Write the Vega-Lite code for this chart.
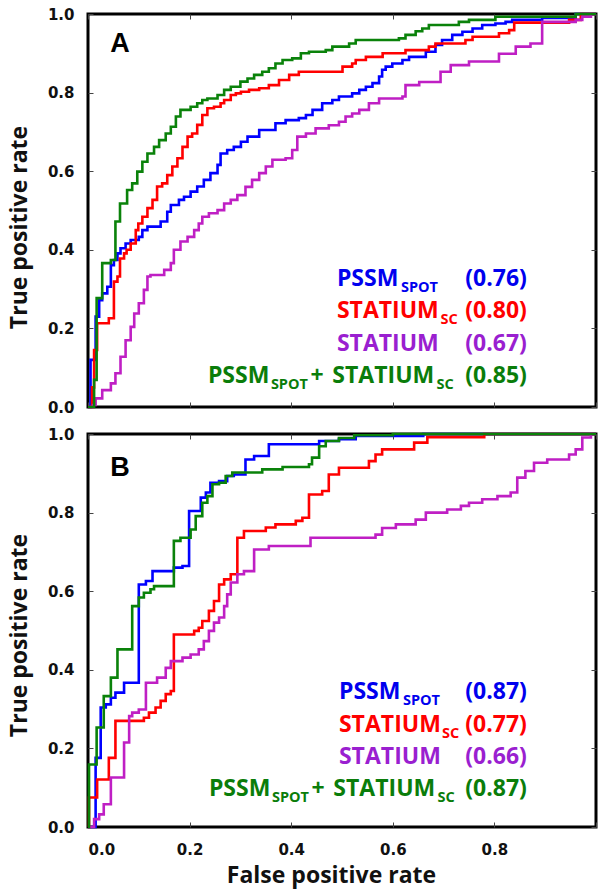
{
  "$schema": "https://vega.github.io/schema/vega-lite/v6.json",
  "padding": {"left": 6, "top": 5, "right": 0, "bottom": 0},
  "spacing": 8,
  "config": {
    "view": {"stroke": "black", "strokeWidth": 3},
    "axis": {"grid": false, "domain": false, "tickSize": -5, "tickColor": "#444", "tickWidth": 1, "labelFont": "DejaVu Sans", "labelFontWeight": "bold", "labelFontSize": 15, "labelColor": "#111", "titleFont": "Open Sans", "titleFontWeight": "bold", "titleFontSize": 23, "titleColor": "#111"}
  },
  "datasets": {
    "curves": [
      {"panel":"A","method":"PSSM_SPOT","fpr":0,"tpr":0},{"panel":"A","method":"PSSM_SPOT","fpr":0.005,"tpr":0.12},{"panel":"A","method":"PSSM_SPOT","fpr":0.015,"tpr":0.23},{"panel":"A","method":"PSSM_SPOT","fpr":0.022,"tpr":0.272},{"panel":"A","method":"PSSM_SPOT","fpr":0.028,"tpr":0.289},{"panel":"A","method":"PSSM_SPOT","fpr":0.038,"tpr":0.306},{"panel":"A","method":"PSSM_SPOT","fpr":0.045,"tpr":0.361},{"panel":"A","method":"PSSM_SPOT","fpr":0.051,"tpr":0.374},{"panel":"A","method":"PSSM_SPOT","fpr":0.058,"tpr":0.391},{"panel":"A","method":"PSSM_SPOT","fpr":0.064,"tpr":0.404},{"panel":"A","method":"PSSM_SPOT","fpr":0.074,"tpr":0.416},{"panel":"A","method":"PSSM_SPOT","fpr":0.084,"tpr":0.425},{"panel":"A","method":"PSSM_SPOT","fpr":0.1,"tpr":0.433},{"panel":"A","method":"PSSM_SPOT","fpr":0.107,"tpr":0.45},{"panel":"A","method":"PSSM_SPOT","fpr":0.117,"tpr":0.459},{"panel":"A","method":"PSSM_SPOT","fpr":0.143,"tpr":0.472},{"panel":"A","method":"PSSM_SPOT","fpr":0.156,"tpr":0.497},{"panel":"A","method":"PSSM_SPOT","fpr":0.163,"tpr":0.514},{"panel":"A","method":"PSSM_SPOT","fpr":0.179,"tpr":0.527},{"panel":"A","method":"PSSM_SPOT","fpr":0.189,"tpr":0.535},{"panel":"A","method":"PSSM_SPOT","fpr":0.202,"tpr":0.548},{"panel":"A","method":"PSSM_SPOT","fpr":0.215,"tpr":0.561},{"panel":"A","method":"PSSM_SPOT","fpr":0.228,"tpr":0.578},{"panel":"A","method":"PSSM_SPOT","fpr":0.241,"tpr":0.595},{"panel":"A","method":"PSSM_SPOT","fpr":0.255,"tpr":0.616},{"panel":"A","method":"PSSM_SPOT","fpr":0.261,"tpr":0.645},{"panel":"A","method":"PSSM_SPOT","fpr":0.274,"tpr":0.654},{"panel":"A","method":"PSSM_SPOT","fpr":0.287,"tpr":0.662},{"panel":"A","method":"PSSM_SPOT","fpr":0.301,"tpr":0.675},{"panel":"A","method":"PSSM_SPOT","fpr":0.314,"tpr":0.688},{"panel":"A","method":"PSSM_SPOT","fpr":0.337,"tpr":0.705},{"panel":"A","method":"PSSM_SPOT","fpr":0.369,"tpr":0.722},{"panel":"A","method":"PSSM_SPOT","fpr":0.389,"tpr":0.73},{"panel":"A","method":"PSSM_SPOT","fpr":0.415,"tpr":0.735},{"panel":"A","method":"PSSM_SPOT","fpr":0.429,"tpr":0.743},{"panel":"A","method":"PSSM_SPOT","fpr":0.442,"tpr":0.756},{"panel":"A","method":"PSSM_SPOT","fpr":0.461,"tpr":0.773},{"panel":"A","method":"PSSM_SPOT","fpr":0.481,"tpr":0.781},{"panel":"A","method":"PSSM_SPOT","fpr":0.494,"tpr":0.79},{"panel":"A","method":"PSSM_SPOT","fpr":0.52,"tpr":0.798},{"panel":"A","method":"PSSM_SPOT","fpr":0.534,"tpr":0.807},{"panel":"A","method":"PSSM_SPOT","fpr":0.547,"tpr":0.815},{"panel":"A","method":"PSSM_SPOT","fpr":0.56,"tpr":0.824},{"panel":"A","method":"PSSM_SPOT","fpr":0.573,"tpr":0.841},{"panel":"A","method":"PSSM_SPOT","fpr":0.579,"tpr":0.858},{"panel":"A","method":"PSSM_SPOT","fpr":0.586,"tpr":0.866},{"panel":"A","method":"PSSM_SPOT","fpr":0.599,"tpr":0.874},{"panel":"A","method":"PSSM_SPOT","fpr":0.619,"tpr":0.883},{"panel":"A","method":"PSSM_SPOT","fpr":0.632,"tpr":0.891},{"panel":"A","method":"PSSM_SPOT","fpr":0.665,"tpr":0.904},{"panel":"A","method":"PSSM_SPOT","fpr":0.684,"tpr":0.921},{"panel":"A","method":"PSSM_SPOT","fpr":0.697,"tpr":0.934},{"panel":"A","method":"PSSM_SPOT","fpr":0.717,"tpr":0.947},{"panel":"A","method":"PSSM_SPOT","fpr":0.737,"tpr":0.955},{"panel":"A","method":"PSSM_SPOT","fpr":0.757,"tpr":0.963},{"panel":"A","method":"PSSM_SPOT","fpr":0.776,"tpr":0.972},{"panel":"A","method":"PSSM_SPOT","fpr":0.802,"tpr":0.976},{"panel":"A","method":"PSSM_SPOT","fpr":0.822,"tpr":0.98},{"panel":"A","method":"PSSM_SPOT","fpr":0.835,"tpr":0.985},{"panel":"A","method":"PSSM_SPOT","fpr":0.894,"tpr":0.99},{"panel":"A","method":"PSSM_SPOT","fpr":0.96,"tpr":1},{"panel":"A","method":"PSSM_SPOT","fpr":1,"tpr":1},

      {"panel":"A","method":"STATIUM_SC","fpr":0,"tpr":0},{"panel":"A","method":"STATIUM_SC","fpr":0.008,"tpr":0.05},{"panel":"A","method":"STATIUM_SC","fpr":0.012,"tpr":0.145},{"panel":"A","method":"STATIUM_SC","fpr":0.018,"tpr":0.213},{"panel":"A","method":"STATIUM_SC","fpr":0.041,"tpr":0.226},{"panel":"A","method":"STATIUM_SC","fpr":0.051,"tpr":0.319},{"panel":"A","method":"STATIUM_SC","fpr":0.058,"tpr":0.332},{"panel":"A","method":"STATIUM_SC","fpr":0.063,"tpr":0.378},{"panel":"A","method":"STATIUM_SC","fpr":0.071,"tpr":0.391},{"panel":"A","method":"STATIUM_SC","fpr":0.076,"tpr":0.4},{"panel":"A","method":"STATIUM_SC","fpr":0.084,"tpr":0.416},{"panel":"A","method":"STATIUM_SC","fpr":0.094,"tpr":0.45},{"panel":"A","method":"STATIUM_SC","fpr":0.099,"tpr":0.467},{"panel":"A","method":"STATIUM_SC","fpr":0.107,"tpr":0.484},{"panel":"A","method":"STATIUM_SC","fpr":0.117,"tpr":0.506},{"panel":"A","method":"STATIUM_SC","fpr":0.127,"tpr":0.527},{"panel":"A","method":"STATIUM_SC","fpr":0.136,"tpr":0.561},{"panel":"A","method":"STATIUM_SC","fpr":0.146,"tpr":0.569},{"panel":"A","method":"STATIUM_SC","fpr":0.156,"tpr":0.59},{"panel":"A","method":"STATIUM_SC","fpr":0.166,"tpr":0.612},{"panel":"A","method":"STATIUM_SC","fpr":0.176,"tpr":0.633},{"panel":"A","method":"STATIUM_SC","fpr":0.186,"tpr":0.662},{"panel":"A","method":"STATIUM_SC","fpr":0.196,"tpr":0.688},{"panel":"A","method":"STATIUM_SC","fpr":0.205,"tpr":0.696},{"panel":"A","method":"STATIUM_SC","fpr":0.215,"tpr":0.718},{"panel":"A","method":"STATIUM_SC","fpr":0.225,"tpr":0.743},{"panel":"A","method":"STATIUM_SC","fpr":0.235,"tpr":0.76},{"panel":"A","method":"STATIUM_SC","fpr":0.248,"tpr":0.764},{"panel":"A","method":"STATIUM_SC","fpr":0.261,"tpr":0.773},{"panel":"A","method":"STATIUM_SC","fpr":0.268,"tpr":0.781},{"panel":"A","method":"STATIUM_SC","fpr":0.281,"tpr":0.794},{"panel":"A","method":"STATIUM_SC","fpr":0.291,"tpr":0.798},{"panel":"A","method":"STATIUM_SC","fpr":0.301,"tpr":0.802},{"panel":"A","method":"STATIUM_SC","fpr":0.317,"tpr":0.807},{"panel":"A","method":"STATIUM_SC","fpr":0.337,"tpr":0.811},{"panel":"A","method":"STATIUM_SC","fpr":0.356,"tpr":0.819},{"panel":"A","method":"STATIUM_SC","fpr":0.376,"tpr":0.832},{"panel":"A","method":"STATIUM_SC","fpr":0.396,"tpr":0.845},{"panel":"A","method":"STATIUM_SC","fpr":0.415,"tpr":0.853},{"panel":"A","method":"STATIUM_SC","fpr":0.501,"tpr":0.866},{"panel":"A","method":"STATIUM_SC","fpr":0.52,"tpr":0.874},{"panel":"A","method":"STATIUM_SC","fpr":0.527,"tpr":0.883},{"panel":"A","method":"STATIUM_SC","fpr":0.547,"tpr":0.891},{"panel":"A","method":"STATIUM_SC","fpr":0.58,"tpr":0.9},{"panel":"A","method":"STATIUM_SC","fpr":0.625,"tpr":0.908},{"panel":"A","method":"STATIUM_SC","fpr":0.671,"tpr":0.917},{"panel":"A","method":"STATIUM_SC","fpr":0.684,"tpr":0.925},{"panel":"A","method":"STATIUM_SC","fpr":0.743,"tpr":0.934},{"panel":"A","method":"STATIUM_SC","fpr":0.757,"tpr":0.942},{"panel":"A","method":"STATIUM_SC","fpr":0.809,"tpr":0.951},{"panel":"A","method":"STATIUM_SC","fpr":0.829,"tpr":0.959},{"panel":"A","method":"STATIUM_SC","fpr":0.839,"tpr":0.978},{"panel":"A","method":"STATIUM_SC","fpr":0.947,"tpr":0.985},{"panel":"A","method":"STATIUM_SC","fpr":0.97,"tpr":1},{"panel":"A","method":"STATIUM_SC","fpr":1,"tpr":1},

      {"panel":"A","method":"STATIUM","fpr":0,"tpr":0},{"panel":"A","method":"STATIUM","fpr":0.01,"tpr":0.005},{"panel":"A","method":"STATIUM","fpr":0.015,"tpr":0.022},{"panel":"A","method":"STATIUM","fpr":0.028,"tpr":0.043},{"panel":"A","method":"STATIUM","fpr":0.045,"tpr":0.06},{"panel":"A","method":"STATIUM","fpr":0.054,"tpr":0.086},{"panel":"A","method":"STATIUM","fpr":0.064,"tpr":0.128},{"panel":"A","method":"STATIUM","fpr":0.074,"tpr":0.17},{"panel":"A","method":"STATIUM","fpr":0.084,"tpr":0.204},{"panel":"A","method":"STATIUM","fpr":0.091,"tpr":0.238},{"panel":"A","method":"STATIUM","fpr":0.1,"tpr":0.264},{"panel":"A","method":"STATIUM","fpr":0.11,"tpr":0.298},{"panel":"A","method":"STATIUM","fpr":0.117,"tpr":0.332},{"panel":"A","method":"STATIUM","fpr":0.123,"tpr":0.336},{"panel":"A","method":"STATIUM","fpr":0.15,"tpr":0.349},{"panel":"A","method":"STATIUM","fpr":0.163,"tpr":0.366},{"panel":"A","method":"STATIUM","fpr":0.169,"tpr":0.4},{"panel":"A","method":"STATIUM","fpr":0.182,"tpr":0.421},{"panel":"A","method":"STATIUM","fpr":0.196,"tpr":0.433},{"panel":"A","method":"STATIUM","fpr":0.209,"tpr":0.45},{"panel":"A","method":"STATIUM","fpr":0.218,"tpr":0.467},{"panel":"A","method":"STATIUM","fpr":0.225,"tpr":0.484},{"panel":"A","method":"STATIUM","fpr":0.238,"tpr":0.493},{"panel":"A","method":"STATIUM","fpr":0.255,"tpr":0.501},{"panel":"A","method":"STATIUM","fpr":0.268,"tpr":0.518},{"panel":"A","method":"STATIUM","fpr":0.281,"tpr":0.527},{"panel":"A","method":"STATIUM","fpr":0.294,"tpr":0.539},{"panel":"A","method":"STATIUM","fpr":0.31,"tpr":0.56},{"panel":"A","method":"STATIUM","fpr":0.323,"tpr":0.578},{"panel":"A","method":"STATIUM","fpr":0.337,"tpr":0.595},{"panel":"A","method":"STATIUM","fpr":0.35,"tpr":0.612},{"panel":"A","method":"STATIUM","fpr":0.363,"tpr":0.629},{"panel":"A","method":"STATIUM","fpr":0.389,"tpr":0.633},{"panel":"A","method":"STATIUM","fpr":0.402,"tpr":0.654},{"panel":"A","method":"STATIUM","fpr":0.412,"tpr":0.688},{"panel":"A","method":"STATIUM","fpr":0.429,"tpr":0.696},{"panel":"A","method":"STATIUM","fpr":0.448,"tpr":0.709},{"panel":"A","method":"STATIUM","fpr":0.474,"tpr":0.717},{"panel":"A","method":"STATIUM","fpr":0.494,"tpr":0.726},{"panel":"A","method":"STATIUM","fpr":0.507,"tpr":0.739},{"panel":"A","method":"STATIUM","fpr":0.52,"tpr":0.747},{"panel":"A","method":"STATIUM","fpr":0.534,"tpr":0.756},{"panel":"A","method":"STATIUM","fpr":0.553,"tpr":0.773},{"panel":"A","method":"STATIUM","fpr":0.573,"tpr":0.785},{"panel":"A","method":"STATIUM","fpr":0.619,"tpr":0.79},{"panel":"A","method":"STATIUM","fpr":0.625,"tpr":0.819},{"panel":"A","method":"STATIUM","fpr":0.652,"tpr":0.827},{"panel":"A","method":"STATIUM","fpr":0.694,"tpr":0.853},{"panel":"A","method":"STATIUM","fpr":0.714,"tpr":0.87},{"panel":"A","method":"STATIUM","fpr":0.75,"tpr":0.879},{"panel":"A","method":"STATIUM","fpr":0.809,"tpr":0.899},{"panel":"A","method":"STATIUM","fpr":0.842,"tpr":0.917},{"panel":"A","method":"STATIUM","fpr":0.871,"tpr":0.925},{"panel":"A","method":"STATIUM","fpr":0.894,"tpr":0.98},{"panel":"A","method":"STATIUM","fpr":0.96,"tpr":0.985},{"panel":"A","method":"STATIUM","fpr":0.973,"tpr":0.993},{"panel":"A","method":"STATIUM","fpr":0.99,"tpr":1},{"panel":"A","method":"STATIUM","fpr":1,"tpr":1},

      {"panel":"A","method":"COMBINED","fpr":0,"tpr":0},{"panel":"A","method":"COMBINED","fpr":0.012,"tpr":0.069},{"panel":"A","method":"COMBINED","fpr":0.017,"tpr":0.277},{"panel":"A","method":"COMBINED","fpr":0.028,"tpr":0.366},{"panel":"A","method":"COMBINED","fpr":0.045,"tpr":0.374},{"panel":"A","method":"COMBINED","fpr":0.054,"tpr":0.472},{"panel":"A","method":"COMBINED","fpr":0.063,"tpr":0.518},{"panel":"A","method":"COMBINED","fpr":0.077,"tpr":0.552},{"panel":"A","method":"COMBINED","fpr":0.087,"tpr":0.569},{"panel":"A","method":"COMBINED","fpr":0.097,"tpr":0.599},{"panel":"A","method":"COMBINED","fpr":0.107,"tpr":0.624},{"panel":"A","method":"COMBINED","fpr":0.117,"tpr":0.645},{"panel":"A","method":"COMBINED","fpr":0.13,"tpr":0.662},{"panel":"A","method":"COMBINED","fpr":0.14,"tpr":0.679},{"panel":"A","method":"COMBINED","fpr":0.153,"tpr":0.696},{"panel":"A","method":"COMBINED","fpr":0.163,"tpr":0.713},{"panel":"A","method":"COMBINED","fpr":0.173,"tpr":0.739},{"panel":"A","method":"COMBINED","fpr":0.182,"tpr":0.756},{"panel":"A","method":"COMBINED","fpr":0.202,"tpr":0.764},{"panel":"A","method":"COMBINED","fpr":0.215,"tpr":0.773},{"panel":"A","method":"COMBINED","fpr":0.225,"tpr":0.781},{"panel":"A","method":"COMBINED","fpr":0.235,"tpr":0.785},{"panel":"A","method":"COMBINED","fpr":0.255,"tpr":0.794},{"panel":"A","method":"COMBINED","fpr":0.268,"tpr":0.807},{"panel":"A","method":"COMBINED","fpr":0.281,"tpr":0.815},{"panel":"A","method":"COMBINED","fpr":0.3,"tpr":0.828},{"panel":"A","method":"COMBINED","fpr":0.314,"tpr":0.836},{"panel":"A","method":"COMBINED","fpr":0.327,"tpr":0.845},{"panel":"A","method":"COMBINED","fpr":0.343,"tpr":0.853},{"panel":"A","method":"COMBINED","fpr":0.356,"tpr":0.862},{"panel":"A","method":"COMBINED","fpr":0.369,"tpr":0.874},{"panel":"A","method":"COMBINED","fpr":0.383,"tpr":0.883},{"panel":"A","method":"COMBINED","fpr":0.402,"tpr":0.887},{"panel":"A","method":"COMBINED","fpr":0.419,"tpr":0.9},{"panel":"A","method":"COMBINED","fpr":0.435,"tpr":0.904},{"panel":"A","method":"COMBINED","fpr":0.468,"tpr":0.908},{"panel":"A","method":"COMBINED","fpr":0.481,"tpr":0.917},{"panel":"A","method":"COMBINED","fpr":0.514,"tpr":0.925},{"panel":"A","method":"COMBINED","fpr":0.527,"tpr":0.934},{"panel":"A","method":"COMBINED","fpr":0.612,"tpr":0.938},{"panel":"A","method":"COMBINED","fpr":0.625,"tpr":0.947},{"panel":"A","method":"COMBINED","fpr":0.645,"tpr":0.956},{"panel":"A","method":"COMBINED","fpr":0.658,"tpr":0.963},{"panel":"A","method":"COMBINED","fpr":0.671,"tpr":0.972},{"panel":"A","method":"COMBINED","fpr":0.73,"tpr":0.98},{"panel":"A","method":"COMBINED","fpr":0.75,"tpr":0.985},{"panel":"A","method":"COMBINED","fpr":0.802,"tpr":0.993},{"panel":"A","method":"COMBINED","fpr":0.96,"tpr":1},{"panel":"A","method":"COMBINED","fpr":1,"tpr":1},

      {"panel":"B","method":"PSSM_SPOT","fpr":0,"tpr":0},{"panel":"B","method":"PSSM_SPOT","fpr":0.015,"tpr":0.176},{"panel":"B","method":"PSSM_SPOT","fpr":0.025,"tpr":0.304},{"panel":"B","method":"PSSM_SPOT","fpr":0.035,"tpr":0.312},{"panel":"B","method":"PSSM_SPOT","fpr":0.045,"tpr":0.329},{"panel":"B","method":"PSSM_SPOT","fpr":0.054,"tpr":0.342},{"panel":"B","method":"PSSM_SPOT","fpr":0.071,"tpr":0.367},{"panel":"B","method":"PSSM_SPOT","fpr":0.1,"tpr":0.617},{"panel":"B","method":"PSSM_SPOT","fpr":0.114,"tpr":0.626},{"panel":"B","method":"PSSM_SPOT","fpr":0.127,"tpr":0.651},{"panel":"B","method":"PSSM_SPOT","fpr":0.169,"tpr":0.66},{"panel":"B","method":"PSSM_SPOT","fpr":0.186,"tpr":0.664},{"panel":"B","method":"PSSM_SPOT","fpr":0.199,"tpr":0.804},{"panel":"B","method":"PSSM_SPOT","fpr":0.222,"tpr":0.838},{"panel":"B","method":"PSSM_SPOT","fpr":0.232,"tpr":0.851},{"panel":"B","method":"PSSM_SPOT","fpr":0.241,"tpr":0.876},{"panel":"B","method":"PSSM_SPOT","fpr":0.258,"tpr":0.88},{"panel":"B","method":"PSSM_SPOT","fpr":0.274,"tpr":0.893},{"panel":"B","method":"PSSM_SPOT","fpr":0.287,"tpr":0.897},{"panel":"B","method":"PSSM_SPOT","fpr":0.31,"tpr":0.935},{"panel":"B","method":"PSSM_SPOT","fpr":0.327,"tpr":0.944},{"panel":"B","method":"PSSM_SPOT","fpr":0.356,"tpr":0.974},{"panel":"B","method":"PSSM_SPOT","fpr":0.455,"tpr":0.982},{"panel":"B","method":"PSSM_SPOT","fpr":0.494,"tpr":0.987},{"panel":"B","method":"PSSM_SPOT","fpr":0.527,"tpr":0.995},{"panel":"B","method":"PSSM_SPOT","fpr":0.66,"tpr":1},{"panel":"B","method":"PSSM_SPOT","fpr":1,"tpr":1},

      {"panel":"B","method":"STATIUM_SC","fpr":0,"tpr":0},{"panel":"B","method":"STATIUM_SC","fpr":0.002,"tpr":0.075},{"panel":"B","method":"STATIUM_SC","fpr":0.018,"tpr":0.121},{"panel":"B","method":"STATIUM_SC","fpr":0.041,"tpr":0.176},{"panel":"B","method":"STATIUM_SC","fpr":0.054,"tpr":0.27},{"panel":"B","method":"STATIUM_SC","fpr":0.11,"tpr":0.278},{"panel":"B","method":"STATIUM_SC","fpr":0.12,"tpr":0.291},{"panel":"B","method":"STATIUM_SC","fpr":0.133,"tpr":0.304},{"panel":"B","method":"STATIUM_SC","fpr":0.143,"tpr":0.321},{"panel":"B","method":"STATIUM_SC","fpr":0.153,"tpr":0.338},{"panel":"B","method":"STATIUM_SC","fpr":0.163,"tpr":0.346},{"panel":"B","method":"STATIUM_SC","fpr":0.169,"tpr":0.49},{"panel":"B","method":"STATIUM_SC","fpr":0.209,"tpr":0.499},{"panel":"B","method":"STATIUM_SC","fpr":0.218,"tpr":0.507},{"panel":"B","method":"STATIUM_SC","fpr":0.225,"tpr":0.524},{"panel":"B","method":"STATIUM_SC","fpr":0.238,"tpr":0.55},{"panel":"B","method":"STATIUM_SC","fpr":0.248,"tpr":0.575},{"panel":"B","method":"STATIUM_SC","fpr":0.258,"tpr":0.617},{"panel":"B","method":"STATIUM_SC","fpr":0.268,"tpr":0.63},{"panel":"B","method":"STATIUM_SC","fpr":0.281,"tpr":0.643},{"panel":"B","method":"STATIUM_SC","fpr":0.294,"tpr":0.736},{"panel":"B","method":"STATIUM_SC","fpr":0.307,"tpr":0.753},{"panel":"B","method":"STATIUM_SC","fpr":0.35,"tpr":0.762},{"panel":"B","method":"STATIUM_SC","fpr":0.369,"tpr":0.77},{"panel":"B","method":"STATIUM_SC","fpr":0.409,"tpr":0.779},{"panel":"B","method":"STATIUM_SC","fpr":0.422,"tpr":0.787},{"panel":"B","method":"STATIUM_SC","fpr":0.435,"tpr":0.846},{"panel":"B","method":"STATIUM_SC","fpr":0.461,"tpr":0.855},{"panel":"B","method":"STATIUM_SC","fpr":0.474,"tpr":0.897},{"panel":"B","method":"STATIUM_SC","fpr":0.494,"tpr":0.914},{"panel":"B","method":"STATIUM_SC","fpr":0.553,"tpr":0.931},{"panel":"B","method":"STATIUM_SC","fpr":0.566,"tpr":0.948},{"panel":"B","method":"STATIUM_SC","fpr":0.579,"tpr":0.961},{"panel":"B","method":"STATIUM_SC","fpr":0.642,"tpr":0.978},{"panel":"B","method":"STATIUM_SC","fpr":0.668,"tpr":0.992},{"panel":"B","method":"STATIUM_SC","fpr":0.78,"tpr":1},{"panel":"B","method":"STATIUM_SC","fpr":1,"tpr":1},

      {"panel":"B","method":"STATIUM","fpr":0,"tpr":0},{"panel":"B","method":"STATIUM","fpr":0.012,"tpr":0.02},{"panel":"B","method":"STATIUM","fpr":0.022,"tpr":0.032},{"panel":"B","method":"STATIUM","fpr":0.031,"tpr":0.058},{"panel":"B","method":"STATIUM","fpr":0.045,"tpr":0.126},{"panel":"B","method":"STATIUM","fpr":0.071,"tpr":0.215},{"panel":"B","method":"STATIUM","fpr":0.081,"tpr":0.282},{"panel":"B","method":"STATIUM","fpr":0.087,"tpr":0.291},{"panel":"B","method":"STATIUM","fpr":0.1,"tpr":0.299},{"panel":"B","method":"STATIUM","fpr":0.114,"tpr":0.367},{"panel":"B","method":"STATIUM","fpr":0.136,"tpr":0.38},{"panel":"B","method":"STATIUM","fpr":0.153,"tpr":0.405},{"panel":"B","method":"STATIUM","fpr":0.163,"tpr":0.422},{"panel":"B","method":"STATIUM","fpr":0.186,"tpr":0.431},{"panel":"B","method":"STATIUM","fpr":0.202,"tpr":0.439},{"panel":"B","method":"STATIUM","fpr":0.218,"tpr":0.452},{"panel":"B","method":"STATIUM","fpr":0.228,"tpr":0.473},{"panel":"B","method":"STATIUM","fpr":0.238,"tpr":0.499},{"panel":"B","method":"STATIUM","fpr":0.248,"tpr":0.52},{"panel":"B","method":"STATIUM","fpr":0.258,"tpr":0.533},{"panel":"B","method":"STATIUM","fpr":0.268,"tpr":0.562},{"panel":"B","method":"STATIUM","fpr":0.274,"tpr":0.592},{"panel":"B","method":"STATIUM","fpr":0.281,"tpr":0.622},{"panel":"B","method":"STATIUM","fpr":0.294,"tpr":0.643},{"panel":"B","method":"STATIUM","fpr":0.307,"tpr":0.651},{"panel":"B","method":"STATIUM","fpr":0.327,"tpr":0.706},{"panel":"B","method":"STATIUM","fpr":0.356,"tpr":0.715},{"panel":"B","method":"STATIUM","fpr":0.438,"tpr":0.736},{"panel":"B","method":"STATIUM","fpr":0.566,"tpr":0.744},{"panel":"B","method":"STATIUM","fpr":0.579,"tpr":0.761},{"panel":"B","method":"STATIUM","fpr":0.606,"tpr":0.77},{"panel":"B","method":"STATIUM","fpr":0.645,"tpr":0.782},{"panel":"B","method":"STATIUM","fpr":0.665,"tpr":0.8},{"panel":"B","method":"STATIUM","fpr":0.707,"tpr":0.808},{"panel":"B","method":"STATIUM","fpr":0.734,"tpr":0.817},{"panel":"B","method":"STATIUM","fpr":0.75,"tpr":0.825},{"panel":"B","method":"STATIUM","fpr":0.776,"tpr":0.834},{"panel":"B","method":"STATIUM","fpr":0.806,"tpr":0.842},{"panel":"B","method":"STATIUM","fpr":0.832,"tpr":0.851},{"panel":"B","method":"STATIUM","fpr":0.845,"tpr":0.889},{"panel":"B","method":"STATIUM","fpr":0.861,"tpr":0.906},{"panel":"B","method":"STATIUM","fpr":0.878,"tpr":0.927},{"panel":"B","method":"STATIUM","fpr":0.904,"tpr":0.935},{"panel":"B","method":"STATIUM","fpr":0.947,"tpr":0.948},{"panel":"B","method":"STATIUM","fpr":0.96,"tpr":0.961},{"panel":"B","method":"STATIUM","fpr":0.973,"tpr":0.991},{"panel":"B","method":"STATIUM","fpr":0.99,"tpr":1},{"panel":"B","method":"STATIUM","fpr":1,"tpr":1},

      {"panel":"B","method":"COMBINED","fpr":0,"tpr":0},{"panel":"B","method":"COMBINED","fpr":0.002,"tpr":0.159},{"panel":"B","method":"COMBINED","fpr":0.017,"tpr":0.253},{"panel":"B","method":"COMBINED","fpr":0.031,"tpr":0.333},{"panel":"B","method":"COMBINED","fpr":0.045,"tpr":0.38},{"panel":"B","method":"COMBINED","fpr":0.058,"tpr":0.452},{"panel":"B","method":"COMBINED","fpr":0.087,"tpr":0.562},{"panel":"B","method":"COMBINED","fpr":0.1,"tpr":0.584},{"panel":"B","method":"COMBINED","fpr":0.11,"tpr":0.596},{"panel":"B","method":"COMBINED","fpr":0.123,"tpr":0.605},{"panel":"B","method":"COMBINED","fpr":0.13,"tpr":0.613},{"panel":"B","method":"COMBINED","fpr":0.169,"tpr":0.728},{"panel":"B","method":"COMBINED","fpr":0.182,"tpr":0.736},{"panel":"B","method":"COMBINED","fpr":0.202,"tpr":0.757},{"panel":"B","method":"COMBINED","fpr":0.212,"tpr":0.791},{"panel":"B","method":"COMBINED","fpr":0.225,"tpr":0.825},{"panel":"B","method":"COMBINED","fpr":0.235,"tpr":0.842},{"panel":"B","method":"COMBINED","fpr":0.245,"tpr":0.872},{"panel":"B","method":"COMBINED","fpr":0.258,"tpr":0.876},{"panel":"B","method":"COMBINED","fpr":0.271,"tpr":0.893},{"panel":"B","method":"COMBINED","fpr":0.284,"tpr":0.902},{"panel":"B","method":"COMBINED","fpr":0.343,"tpr":0.91},{"panel":"B","method":"COMBINED","fpr":0.383,"tpr":0.916},{"panel":"B","method":"COMBINED","fpr":0.435,"tpr":0.923},{"panel":"B","method":"COMBINED","fpr":0.441,"tpr":0.94},{"panel":"B","method":"COMBINED","fpr":0.455,"tpr":0.969},{"panel":"B","method":"COMBINED","fpr":0.468,"tpr":0.982},{"panel":"B","method":"COMBINED","fpr":0.494,"tpr":0.99},{"panel":"B","method":"COMBINED","fpr":0.524,"tpr":0.997},{"panel":"B","method":"COMBINED","fpr":0.6,"tpr":1},{"panel":"B","method":"COMBINED","fpr":1,"tpr":1}
    ],
    "labels": [
      {"panel":"A","piece":"letter","line":0,"text":"A","method":"none"},
      {"panel":"A","piece":"main","line":1,"text":"PSSM","method":"PSSM_SPOT"},
      {"panel":"A","piece":"sub1","line":1,"text":"SPOT","method":"PSSM_SPOT"},
      {"panel":"A","piece":"auc","line":1,"text":"(0.76)","method":"PSSM_SPOT"},
      {"panel":"A","piece":"main","line":2,"text":"STATIUM","method":"STATIUM_SC"},
      {"panel":"A","piece":"sub2","line":2,"text":"SC","method":"STATIUM_SC"},
      {"panel":"A","piece":"auc","line":2,"text":"(0.80)","method":"STATIUM_SC"},
      {"panel":"A","piece":"main","line":3,"text":"STATIUM","method":"STATIUM"},
      {"panel":"A","piece":"auc","line":3,"text":"(0.67)","method":"STATIUM"},
      {"panel":"A","piece":"main4a","line":4,"text":"PSSM","method":"COMBINED"},
      {"panel":"A","piece":"sub4a","line":4,"text":"SPOT","method":"COMBINED"},
      {"panel":"A","piece":"plus","line":4,"text":"+","method":"COMBINED"},
      {"panel":"A","piece":"main4b","line":4,"text":"STATIUM","method":"COMBINED"},
      {"panel":"A","piece":"sub4b","line":4,"text":"SC","method":"COMBINED"},
      {"panel":"A","piece":"auc","line":4,"text":"(0.85)","method":"COMBINED"},
      {"panel":"B","piece":"letter","line":0,"text":"B","method":"none"},
      {"panel":"B","piece":"main","line":1,"text":"PSSM","method":"PSSM_SPOT"},
      {"panel":"B","piece":"sub1","line":1,"text":"SPOT","method":"PSSM_SPOT"},
      {"panel":"B","piece":"auc","line":1,"text":"(0.87)","method":"PSSM_SPOT"},
      {"panel":"B","piece":"main","line":2,"text":"STATIUM","method":"STATIUM_SC"},
      {"panel":"B","piece":"sub2","line":2,"text":"SC","method":"STATIUM_SC"},
      {"panel":"B","piece":"auc","line":2,"text":"(0.77)","method":"STATIUM_SC"},
      {"panel":"B","piece":"main","line":3,"text":"STATIUM","method":"STATIUM"},
      {"panel":"B","piece":"auc","line":3,"text":"(0.66)","method":"STATIUM"},
      {"panel":"B","piece":"main4a","line":4,"text":"PSSM","method":"COMBINED"},
      {"panel":"B","piece":"sub4a","line":4,"text":"SPOT","method":"COMBINED"},
      {"panel":"B","piece":"plus","line":4,"text":"+","method":"COMBINED"},
      {"panel":"B","piece":"main4b","line":4,"text":"STATIUM","method":"COMBINED"},
      {"panel":"B","piece":"sub4b","line":4,"text":"SC","method":"COMBINED"},
      {"panel":"B","piece":"auc","line":4,"text":"(0.87)","method":"COMBINED"}
    ]
  },
  "vconcat": [
    {
      "width": 508, "height": 393,
      "layer": [
        {
          "layer": [
            {
              "data": {"name": "curves"},
              "transform": [{"filter": "datum.panel === 'A'"}],
              "mark": {"type": "line", "interpolate": "step-after", "strokeWidth": 2.6},
              "encoding": {
                "x": {"field": "fpr", "type": "quantitative", "scale": {"domain": [0, 1], "nice": false}, "axis": {"values": [0, 0.2, 0.4, 0.6, 0.8, 1], "labels": false, "title": null}},
                "y": {"field": "tpr", "type": "quantitative", "scale": {"domain": [0, 1], "nice": false}, "axis": {"values": [0, 0.2, 0.4, 0.6, 0.8, 1], "format": ".1f", "title": "True positive rate", "labelPadding": 19, "titleX": -57, "titleY": 213}},
                "color": {"field": "method", "type": "nominal", "scale": {"domain": ["PSSM_SPOT", "STATIUM_SC", "STATIUM", "COMBINED"], "range": ["#0000ff", "#ff0000", "#bf1fc4", "#0a820a"]}, "legend": null}
              }
            },
            {
              "mark": {"type": "rule", "strokeDash": [6, 5], "strokeWidth": 1.1, "color": "#222"},
              "encoding": {
                "x": {"datum": 0, "type": "quantitative", "axis": {"orient": "top", "values": [0, 0.2, 0.4, 0.6, 0.8, 1], "labels": false, "title": null}},
                "y": {"datum": 0, "type": "quantitative", "axis": {"orient": "right", "values": [0, 0.2, 0.4, 0.6, 0.8, 1], "labels": false, "title": null}},
                "x2": {"datum": 1},
                "y2": {"datum": 1}
              }
            },
            {
              "data": {"name": "labels"},
              "transform": [{"filter": "datum.panel === 'A' && datum.piece === 'letter'"}],
              "mark": {"type": "text", "align": "center", "baseline": "alphabetic", "font": "Liberation Sans", "fontWeight": "bold", "fontSize": 27, "color": "black"},
              "encoding": {
                "x": {"datum": 0.063, "type": "quantitative", "axis": null},
                "y": {"datum": 0.904, "type": "quantitative", "axis": null},
                "text": {"field": "text"}
              }
            }
          ],
          "resolve": {"axis": {"x": "independent", "y": "independent"}}
        },
        {
          "data": {"name": "labels"},
          "transform": [{"filter": "datum.panel === 'A' && datum.piece !== 'letter'"}],
          "encoding": {
            "y": {"field": "line", "type": "quantitative", "scale": {"domain": [4.742, -7.408], "zero": false, "nice": false}, "axis": null},
            "text": {"field": "text"},
            "color": {"field": "method", "type": "nominal", "scale": {"domain": ["PSSM_SPOT", "STATIUM_SC", "STATIUM", "COMBINED"], "range": ["#0000ee", "#ff0000", "#9a1fd0", "#0a7d0a"]}, "legend": null}
          },
          "layer": [
            {"transform": [{"filter": "datum.piece === 'main'"}], "mark": {"type": "text", "align": "left", "baseline": "alphabetic", "font": "Open Sans", "fontWeight": "bold", "fontSize": 23}, "encoding": {"x": {"datum": 0.49, "type": "quantitative", "axis": null}}},
            {"transform": [{"filter": "datum.piece === 'auc'"}], "mark": {"type": "text", "align": "right", "baseline": "alphabetic", "font": "Open Sans", "fontWeight": "bold", "fontSize": 23}, "encoding": {"x": {"datum": 0.864, "type": "quantitative", "axis": null}}},
            {"transform": [{"filter": "datum.piece === 'main4a'"}], "mark": {"type": "text", "align": "left", "baseline": "alphabetic", "font": "Open Sans", "fontWeight": "bold", "fontSize": 23}, "encoding": {"x": {"datum": 0.236, "type": "quantitative", "axis": null}}},
            {"transform": [{"filter": "datum.piece === 'plus'"}], "mark": {"type": "text", "align": "center", "baseline": "alphabetic", "font": "Open Sans", "fontWeight": "bold", "fontSize": 23}, "encoding": {"x": {"datum": 0.451, "type": "quantitative", "axis": null}}},
            {"transform": [{"filter": "datum.piece === 'main4b'"}], "mark": {"type": "text", "align": "left", "baseline": "alphabetic", "font": "Open Sans", "fontWeight": "bold", "fontSize": 23}, "encoding": {"x": {"datum": 0.481, "type": "quantitative", "axis": null}}},
            {"transform": [{"filter": "datum.piece === 'sub1'"}], "mark": {"type": "text", "align": "left", "baseline": "alphabetic", "font": "Open Sans", "fontWeight": "bold", "fontSize": 14.5, "dy": 6}, "encoding": {"x": {"datum": 0.616, "type": "quantitative", "axis": null}}},
            {"transform": [{"filter": "datum.piece === 'sub2'"}], "mark": {"type": "text", "align": "left", "baseline": "alphabetic", "font": "Open Sans", "fontWeight": "bold", "fontSize": 14.5, "dy": 6}, "encoding": {"x": {"datum": 0.694, "type": "quantitative", "axis": null}}},
            {"transform": [{"filter": "datum.piece === 'sub4a'"}], "mark": {"type": "text", "align": "left", "baseline": "alphabetic", "font": "Open Sans", "fontWeight": "bold", "fontSize": 14.5, "dy": 6}, "encoding": {"x": {"datum": 0.36, "type": "quantitative", "axis": null}}},
            {"transform": [{"filter": "datum.piece === 'sub4b'"}], "mark": {"type": "text", "align": "left", "baseline": "alphabetic", "font": "Open Sans", "fontWeight": "bold", "fontSize": 14.5, "dy": 6}, "encoding": {"x": {"datum": 0.686, "type": "quantitative", "axis": null}}}
          ]
        }
      ],
      "resolve": {"scale": {"y": "independent", "color": "independent"}}
    },
    {
      "width": 508, "height": 393,
      "layer": [
        {
          "layer": [
            {
              "data": {"name": "curves"},
              "transform": [{"filter": "datum.panel === 'B'"}],
              "mark": {"type": "line", "interpolate": "step-after", "strokeWidth": 2.6},
              "encoding": {
                "x": {"field": "fpr", "type": "quantitative", "scale": {"domain": [0, 1], "nice": false}, "axis": {"values": [0, 0.2, 0.4, 0.6, 0.8, 1], "format": ".1f", "labelExpr": "datum.value >= 1 ? '' : datum.label", "title": "False positive rate", "labelPadding": 20, "titlePadding": 7, "titleX": 243}},
                "y": {"field": "tpr", "type": "quantitative", "scale": {"domain": [0, 1], "nice": false}, "axis": {"values": [0, 0.2, 0.4, 0.6, 0.8, 1], "format": ".1f", "title": "True positive rate", "labelPadding": 19, "titleX": -57, "titleY": 201}},
                "color": {"field": "method", "type": "nominal", "scale": {"domain": ["PSSM_SPOT", "STATIUM_SC", "STATIUM", "COMBINED"], "range": ["#0000ff", "#ff0000", "#bf1fc4", "#0a820a"]}, "legend": null}
              }
            },
            {
              "mark": {"type": "rule", "strokeDash": [6, 5], "strokeWidth": 1.1, "color": "#222"},
              "encoding": {
                "x": {"datum": 0, "type": "quantitative", "axis": {"orient": "top", "values": [0, 0.2, 0.4, 0.6, 0.8, 1], "labels": false, "title": null}},
                "y": {"datum": 0, "type": "quantitative", "axis": {"orient": "right", "values": [0, 0.2, 0.4, 0.6, 0.8, 1], "labels": false, "title": null}},
                "x2": {"datum": 1},
                "y2": {"datum": 1}
              }
            },
            {
              "data": {"name": "labels"},
              "transform": [{"filter": "datum.panel === 'B' && datum.piece === 'letter'"}],
              "mark": {"type": "text", "align": "center", "baseline": "alphabetic", "font": "Liberation Sans", "fontWeight": "bold", "fontSize": 27, "color": "black"},
              "encoding": {
                "x": {"datum": 0.063, "type": "quantitative", "axis": null},
                "y": {"datum": 0.893, "type": "quantitative", "axis": null},
                "text": {"field": "text"}
              }
            }
          ],
          "resolve": {"axis": {"x": "independent", "y": "independent"}}
        },
        {
          "data": {"name": "labels"},
          "transform": [{"filter": "datum.panel === 'B' && datum.piece !== 'letter'"}],
          "encoding": {
            "y": {"field": "line", "type": "quantitative", "scale": {"domain": [4.963, -7.232], "zero": false, "nice": false}, "axis": null},
            "text": {"field": "text"},
            "color": {"field": "method", "type": "nominal", "scale": {"domain": ["PSSM_SPOT", "STATIUM_SC", "STATIUM", "COMBINED"], "range": ["#0000ee", "#ff0000", "#9a1fd0", "#0a7d0a"]}, "legend": null}
          },
          "layer": [
            {"transform": [{"filter": "datum.piece === 'main'"}], "mark": {"type": "text", "align": "left", "baseline": "alphabetic", "font": "Open Sans", "fontWeight": "bold", "fontSize": 23}, "encoding": {"x": {"datum": 0.494, "type": "quantitative", "axis": null}}},
            {"transform": [{"filter": "datum.piece === 'auc'"}], "mark": {"type": "text", "align": "right", "baseline": "alphabetic", "font": "Open Sans", "fontWeight": "bold", "fontSize": 23}, "encoding": {"x": {"datum": 0.864, "type": "quantitative", "axis": null}}},
            {"transform": [{"filter": "datum.piece === 'main4a'"}], "mark": {"type": "text", "align": "left", "baseline": "alphabetic", "font": "Open Sans", "fontWeight": "bold", "fontSize": 23}, "encoding": {"x": {"datum": 0.238, "type": "quantitative", "axis": null}}},
            {"transform": [{"filter": "datum.piece === 'plus'"}], "mark": {"type": "text", "align": "center", "baseline": "alphabetic", "font": "Open Sans", "fontWeight": "bold", "fontSize": 23}, "encoding": {"x": {"datum": 0.453, "type": "quantitative", "axis": null}}},
            {"transform": [{"filter": "datum.piece === 'main4b'"}], "mark": {"type": "text", "align": "left", "baseline": "alphabetic", "font": "Open Sans", "fontWeight": "bold", "fontSize": 23}, "encoding": {"x": {"datum": 0.483, "type": "quantitative", "axis": null}}},
            {"transform": [{"filter": "datum.piece === 'sub1'"}], "mark": {"type": "text", "align": "left", "baseline": "alphabetic", "font": "Open Sans", "fontWeight": "bold", "fontSize": 14.5, "dy": 6}, "encoding": {"x": {"datum": 0.62, "type": "quantitative", "axis": null}}},
            {"transform": [{"filter": "datum.piece === 'sub2'"}], "mark": {"type": "text", "align": "left", "baseline": "alphabetic", "font": "Open Sans", "fontWeight": "bold", "fontSize": 14.5, "dy": 6}, "encoding": {"x": {"datum": 0.697, "type": "quantitative", "axis": null}}},
            {"transform": [{"filter": "datum.piece === 'sub4a'"}], "mark": {"type": "text", "align": "left", "baseline": "alphabetic", "font": "Open Sans", "fontWeight": "bold", "fontSize": 14.5, "dy": 6}, "encoding": {"x": {"datum": 0.362, "type": "quantitative", "axis": null}}},
            {"transform": [{"filter": "datum.piece === 'sub4b'"}], "mark": {"type": "text", "align": "left", "baseline": "alphabetic", "font": "Open Sans", "fontWeight": "bold", "fontSize": 14.5, "dy": 6}, "encoding": {"x": {"datum": 0.688, "type": "quantitative", "axis": null}}}
          ]
        }
      ],
      "resolve": {"scale": {"y": "independent", "color": "independent"}}
    }
  ]
}
